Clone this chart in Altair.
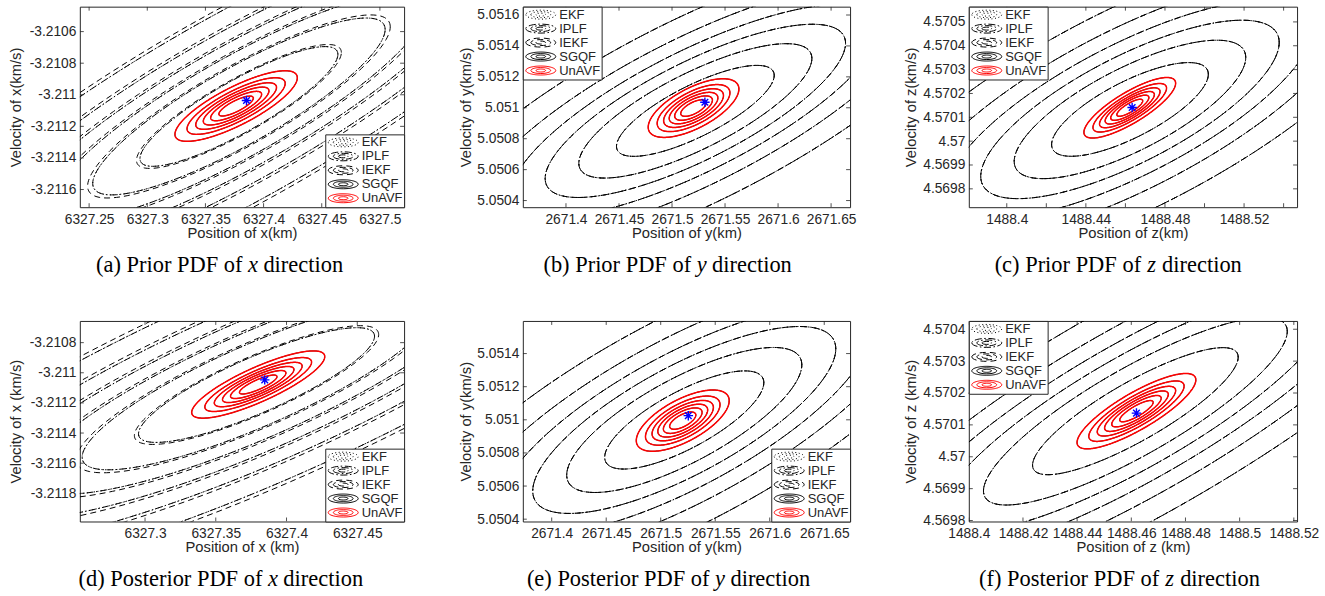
import altair as alt
import numpy as np
import pandas as pd

# ---------------- data ----------------
PANEL_IDS = ["a", "b", "c", "d", "e", "f"]
CAPTION_HEAD = ["(a) Prior PDF of", "(b) Prior PDF of", "(c) Prior PDF of",
                "(d) Posterior PDF of", "(e) Posterior PDF of", "(f) Posterior PDF of"]
CAPTION_VAR = ["x", "y", "z", "x", "y", "z"]
CAPTION_TAIL = ["direction"] * 6
X_TITLES = ["Position of x(km)", "Position of y(km)", "Position of z(km)",
            "Position of x (km)", "Position of y(km)", "Position of z (km)"]
Y_TITLES = ["Velocity of x(km/s)", "Velocity of y(km/s)", "Velocity of z(km/s)",
            "Velocity of x (km/s)", "Velocity of y(km/s)", "Velocity of z (km/s)"]

FILTERS = ["EKF", "IPLF", "IEKF", "SGQF", "UnAVF"]
# Mahalanobis radii of the plotted density contours
LEVELS_K = [0.555, 0.82, 1.057, 1.30, 1.58, 1.97]

X_DOMAINS = [[6327.2420, 6327.5208], [2671.3593, 2671.6679], [1488.3808, 1488.5468],
             [6327.2539, 6327.4831], [2671.3735, 2671.6737], [1488.4000, 1488.5212]]
Y_DOMAINS = [[-3.211712, -3.210442], [5.050357, 5.051654], [4.569723, 4.570564],
             [-3.211987, -3.210656], [5.050386, 5.051597], [4.569797, 4.570426]]

X_TICKS = [
    [6327.25, 6327.3, 6327.35, 6327.4, 6327.45, 6327.5],
    [2671.4, 2671.45, 2671.5, 2671.55, 2671.6, 2671.65],
    [1488.4, 1488.42, 1488.44, 1488.46, 1488.48, 1488.5, 1488.52, 1488.54],
    [6327.3, 6327.35, 6327.4, 6327.45],
    [2671.4, 2671.45, 2671.5, 2671.55, 2671.6, 2671.65],
    [1488.4, 1488.42, 1488.44, 1488.46, 1488.48, 1488.5, 1488.52],
]
X_LABELS = [
    [6327.25, 6327.3, 6327.35, 6327.4, 6327.45, 6327.5],
    [2671.4, 2671.45, 2671.5, 2671.55, 2671.6, 2671.65],
    [1488.4, 1488.44, 1488.48, 1488.52],
    [6327.3, 6327.35, 6327.4, 6327.45],
    [2671.4, 2671.45, 2671.5, 2671.55, 2671.6, 2671.65],
    [1488.4, 1488.42, 1488.44, 1488.46, 1488.48, 1488.5, 1488.52],
]
Y_TICKS = [
    [-3.2116, -3.2114, -3.2112, -3.211, -3.2108, -3.2106],
    [5.0504, 5.0506, 5.0508, 5.051, 5.0512, 5.0514, 5.0516],
    [4.5698, 4.5699, 4.57, 4.5701, 4.5702, 4.5703, 4.5704, 4.5705],
    [-3.2118, -3.2116, -3.2114, -3.2112, -3.211, -3.2108],
    [5.0504, 5.0506, 5.0508, 5.051, 5.0512, 5.0514],
    [4.5698, 4.5699, 4.57, 4.5701, 4.5702, 4.5703, 4.5704],
]

# Gaussian of EKF / IPLF / IEKF (black contours)
BLACK_MX = [6327.3788, 2671.5220, 1488.4623, 6327.3788, 2671.5216, 1488.4615]
BLACK_MY = [-3.211074, 5.050980, 4.570133, -3.2110815, 5.050999, 4.570143]
BLACK_SX = [0.1533, 0.1340, 0.0714, 0.1503, 0.1315, 0.0684]
BLACK_SY = [0.000683, 0.000530, 0.000354, 0.000686, 0.000534, 0.000359]
BLACK_RHO = [0.87, 0.78, 0.75, 0.85, 0.76, 0.85]
IEKF_SCALE = [1.035, 1.0, 1.0, 1.035, 1.0, 1.0]

# Gaussian of UnAVF / SGQF (red contours)
RED_MX = [6327.3764, 2671.5203, 1488.4622, 6327.3800, 2671.5202, 1488.4619]
RED_MY = [-3.2110715, 5.050998, 4.570140, -3.211078, 5.050995, 4.570143]
RED_SX = [0.0267, 0.0217, 0.01177, 0.02387, 0.02163, 0.01113]
RED_SY = [0.0001135, 0.0000963, 0.0000644, 0.0001133, 0.0000939, 0.0000600]
RED_RHO = [0.80, 0.65, 0.81, 0.83, 0.65, 0.83]

# true state (blue star)
STAR_X = [6327.3853, 2671.5310, 1488.4634, 6327.3846, 2671.5253, 1488.4619]
STAR_Y = [-3.211036, 5.051036, 4.570141, -3.211047, 5.051025, 4.570137]

# ---------------- styling / layout ----------------
INK = "#262626"
SANS = "Liberation Sans"
SERIF = "Liberation Serif"
FILTER_COLORS = ["black", "black", "black", "black", "#ff0000"]
FILTER_DASH = [[1, 2.5], [7, 2.5, 1.5, 2.5], [6, 4], [1, 0], [1, 0]]
WIDTHS = [325, 328, 329, 325, 328, 329]
HEIGHT = 201
YTITLE_X = [-63, -56, -57.5, -63, -56, -57.5]
LEGEND_ORIENT = ["bottom-right", "top-left", "top-left", "bottom-right", "bottom-right", "top-left"]
CAP_VAR_X = [173.5, 179.2, 183.2, 193.5, 197.6, 201.3]
ELLIPSE_ICON = ("M-2.5,0A2.5,0.75,0,1,0,2.5,0A2.5,0.75,0,1,0,-2.5,0Z"
                "M-1.65,0A1.65,0.5,0,1,0,1.65,0A1.65,0.5,0,1,0,-1.65,0Z"
                "M-0.8,0A0.8,0.25,0,1,0,0.8,0A0.8,0.25,0,1,0,-0.8,0Z")
STAR_ICON = "M0,-1L0,1M-1,0L1,0M-0.7,-0.7L0.7,0.7M-0.7,0.7L0.7,-0.7"


def contour_frame(i):
    rows = []
    params = {
        "EKF": (BLACK_MX[i], BLACK_MY[i], BLACK_SX[i], BLACK_SY[i], BLACK_RHO[i]),
        "IPLF": (BLACK_MX[i], BLACK_MY[i], BLACK_SX[i], BLACK_SY[i], BLACK_RHO[i]),
        "IEKF": (BLACK_MX[i], BLACK_MY[i], BLACK_SX[i] * IEKF_SCALE[i],
                 BLACK_SY[i] * IEKF_SCALE[i], BLACK_RHO[i]),
        "SGQF": (RED_MX[i], RED_MY[i], RED_SX[i], RED_SY[i], RED_RHO[i]),
        "UnAVF": (RED_MX[i], RED_MY[i], RED_SX[i], RED_SY[i], RED_RHO[i]),
    }
    t = np.linspace(0, 2 * np.pi, 161)
    for f in FILTERS:
        mx, my, sx, sy, rho = params[f]
        for li, k in enumerate(LEVELS_K):
            xs = mx + k * sx * np.cos(t)
            ys = my + k * sy * (rho * np.cos(t) + np.sqrt(1 - rho ** 2) * np.sin(t))
            for j in range(len(t)):
                rows.append((f, f"{f}{li}", j, round(float(xs[j]), 7), round(float(ys[j]), 9)))
    return pd.DataFrame(rows, columns=["filter", "curve", "idx", "x", "y"])


def panel(i):
    W = WIDTHS[i]
    xs = alt.Scale(domain=X_DOMAINS[i], nice=False, zero=False)
    ys = alt.Scale(domain=Y_DOMAINS[i], nice=False, zero=False)
    df = contour_frame(i)

    legend = alt.Legend(
        title=None, orient=LEGEND_ORIENT[i], offset=0, padding=1.5,
        strokeColor=INK, fillColor="white", cornerRadius=0,
        symbolType=ELLIPSE_ICON, symbolSize=144, symbolStrokeWidth=1,
        symbolFillColor="transparent", symbolOffset=10,
        labelFont=SANS, labelFontSize=13, labelColor=INK, labelOffset=12,
        rowPadding=0,
    )
    color = alt.Color("filter:N", scale=alt.Scale(domain=FILTERS, range=FILTER_COLORS), legend=legend)
    dash = alt.StrokeDash("filter:N", scale=alt.Scale(domain=FILTERS, range=FILTER_DASH), legend=legend)

    x_axis = alt.Axis(
        title=X_TITLES[i], values=X_LABELS[i], labelExpr="format(datum.value, '.2~f')",
        ticks=False, domain=False, grid=False, labelOverlap=False, labelFlush=False,
        labelFont=SANS, labelFontSize=13.8, labelColor=INK, labelPadding=5,
        titleFont=SANS, titleFontSize=14.8, titleFontWeight="normal", titleColor=INK,
        titleY=26.5, titleBaseline="middle",
    )
    y_axis = alt.Axis(
        title=Y_TITLES[i], values=Y_TICKS[i],
        labelExpr="(datum.value < 0 ? '-' : '') + format(abs(datum.value), '.4~f')",
        ticks=False, domain=False, grid=False, labelOverlap=False, labelFlush=False,
        labelFont=SANS, labelFontSize=13.8, labelColor=INK, labelPadding=4,
        titleFont=SANS, titleFontSize=14.8, titleFontWeight="normal", titleColor=INK,
        titleX=YTITLE_X[i], titleY=HEIGHT / 2, titleBaseline="middle",
    )
    X = alt.X("x:Q", scale=xs, axis=x_axis)
    Y = alt.Y("y:Q", scale=ys, axis=y_axis)

    black = alt.Chart(df[df["filter"] != "UnAVF"]).mark_line(clip=True, strokeWidth=1).encode(
        x=X, y=Y, color=color, strokeDash=dash, detail="curve:N", order="idx:Q",
    )
    red = alt.Chart(df[df["filter"] == "UnAVF"]).mark_line(clip=True, strokeWidth=1.5).encode(
        x=X, y=Y, color=color, strokeDash=dash, detail="curve:N", order="idx:Q",
    )
    star = alt.Chart(pd.DataFrame({"x": [STAR_X[i]], "y": [STAR_Y[i]]})).mark_point(
        shape=STAR_ICON, size=90, stroke="#0000ff", strokeWidth=1.4, filled=False, opacity=1
    ).encode(x=X, y=Y)

    xt = pd.DataFrame({"x": X_TICKS[i]})
    yt = pd.DataFrame({"y": Y_TICKS[i]})
    tick_style = dict(color=INK, strokeWidth=0.8, clip=True)
    xb = alt.Chart(xt).mark_rule(**tick_style).encode(
        x=X, y=alt.value(HEIGHT), y2=alt.value(HEIGHT - 4))
    xtop = alt.Chart(xt).mark_rule(**tick_style).encode(
        x=X, y=alt.value(0), y2=alt.value(4))
    yl = alt.Chart(yt).mark_rule(**tick_style).encode(
        y=Y, x=alt.value(0), x2=alt.value(4))
    yr = alt.Chart(yt).mark_rule(**tick_style).encode(
        y=Y, x=alt.value(W), x2=alt.value(W - 4))

    one = pd.DataFrame({"t": [0]})
    vx = CAP_VAR_X[i]
    cy = HEIGHT + 65
    cap1 = alt.Chart(one).mark_text(
        text=CAPTION_HEAD[i], font=SERIF, fontSize=22.5, align="right", baseline="alphabetic", color="black"
    ).encode(x=alt.value(vx - 10.5), y=alt.value(cy))
    cap2 = alt.Chart(one).mark_text(
        text=CAPTION_VAR[i], font=SERIF, fontSize=22.5, fontStyle="italic", align="center",
        baseline="alphabetic", color="black"
    ).encode(x=alt.value(vx), y=alt.value(cy))
    cap3 = alt.Chart(one).mark_text(
        text=CAPTION_TAIL[i], font=SERIF, fontSize=22.5, align="left", baseline="alphabetic", color="black"
    ).encode(x=alt.value(vx + 10.5), y=alt.value(cy))

    return alt.layer(black, red, xb, xtop, yl, yr, star, cap1, cap2, cap3).properties(
        width=W, height=HEIGHT
    )


charts = [panel(i) for i in range(6)]
chart = alt.concat(
    *charts, columns=3, spacing={"row": 114, "column": 119}, bounds="flush", align="each"
).resolve_scale(
    x="independent", y="independent", color="independent", strokeDash="independent"
).resolve_legend(
    color="independent", strokeDash="independent"
).properties(
    padding={"left": 8, "top": 5, "right": 5, "bottom": 2}, background="white"
).configure_view(stroke=INK, strokeWidth=1)

chart.save("out.html", embed_options={"renderer": "svg", "actions": False})
